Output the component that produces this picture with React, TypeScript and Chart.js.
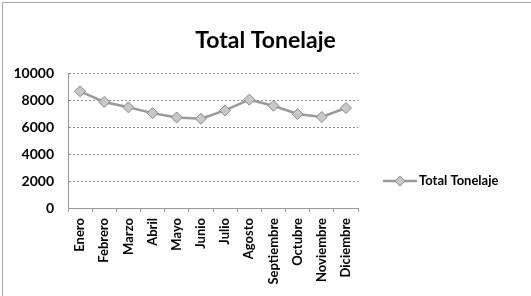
import React, { useEffect, useRef } from "react";
import { Chart, registerables } from "chart.js";

Chart.register(...registerables);

const categories = [
  "Enero", "Febrero", "Marzo", "Abril", "Mayo", "Junio",
  "Julio", "Agosto", "Septiembre", "Octubre", "Noviembre", "Diciembre",
];
const totalTonelaje = [8680, 7890, 7490, 7060, 6740, 6640, 7260, 8060, 7610, 6990, 6770, 7440];
const seriesLabel = "Total Tonelaje";
const chartTitle = "Total Tonelaje";
const yMin = 0;
const yMax = 10000;
const yStep = 2000;

const FONT = "Lato, 'Liberation Sans', sans-serif";

const titleCenterPlugin = {
  id: "titleCenter",
  afterLayout(chart: any) {
    const tb = chart.titleBlock;
    if (tb) {
      tb.left = 0;
      tb.right = chart.width;
      tb.width = chart.width;
    }
  },
};

const legendPlugin = {
  id: "sideLegend",
  afterDraw(chart: any) {
    const ctx = chart.ctx;
    const area = chart.chartArea;
    const ds = chart.data.datasets[0];
    const x0 = area.right + 25;
    const y = area.top + (area.bottom - area.top) * 0.8;
    ctx.save();
    ctx.strokeStyle = "#9a9a9a";
    ctx.lineWidth = 2.5;
    ctx.beginPath();
    ctx.moveTo(x0, y);
    ctx.lineTo(x0 + 34, y);
    ctx.stroke();
    const cx = x0 + 17;
    const r = 5;
    ctx.beginPath();
    ctx.moveTo(cx, y - r);
    ctx.lineTo(cx + r, y);
    ctx.lineTo(cx, y + r);
    ctx.lineTo(cx - r, y);
    ctx.closePath();
    ctx.fillStyle = "#c8c8c8";
    ctx.fill();
    ctx.strokeStyle = "#888";
    ctx.lineWidth = 1;
    ctx.stroke();
    ctx.fillStyle = "#000";
    ctx.font = `bold 13px ${FONT}`;
    ctx.textBaseline = "middle";
    ctx.textAlign = "left";
    ctx.fillText(ds.label, x0 + 36, y);
    ctx.restore();
  },
};

export default function App() {
  const ref = useRef<HTMLCanvasElement>(null);
  useEffect(() => {
    document.body.style.margin = "0";
    const chart = new Chart(ref.current!, {
      type: "line",
      data: {
        labels: categories,
        datasets: [
          {
            label: seriesLabel,
            data: totalTonelaje,
            borderColor: "#9a9a9a",
            borderWidth: 2.5,
            pointStyle: "rectRot",
            pointRadius: 5.5,
            pointBackgroundColor: "#c8c8c8",
            pointBorderColor: "#888",
            pointBorderWidth: 1,
            tension: 0,
          },
        ],
      },
      options: {
        animation: false,
        responsive: false,
        layout: { padding: { left: 0, right: 173, top: 0, bottom: 0 } },
        plugins: {
          legend: { display: false },
          tooltip: { enabled: false },
          title: {
            display: true,
            text: chartTitle,
            color: "#000",
            font: { family: FONT, size: 23, weight: "bold" },
            padding: { top: 27, bottom: 19 },
          },
        },
        scales: {
          x: {
            offset: true,
            grid: {
              drawOnChartArea: false,
              drawTicks: true,
              tickLength: 4,
              color: "#999",
              offset: true,
            },
            border: { display: true, color: "#999", dash: [1, 1] },
            ticks: {
              color: "#000",
              font: { family: FONT, size: 13, weight: "bold" },
              minRotation: 90,
              maxRotation: 90,
              padding: 6,
              autoSkip: false,
            },
            afterFit(scale: any) {
              scale.height = 88;
            },
          },
          y: {
            min: yMin,
            max: yMax,
            ticks: {
              stepSize: yStep,
              color: "#000",
              font: { family: FONT, size: 14, weight: "bold" },
              padding: 14,
              callback: (v: any) => String(v),
            },
            grid: {
              color: "#888",
              drawTicks: false,
            },
            border: { display: true, color: "#999", dash: [2, 2] },
            afterFit(scale: any) {
              scale.width = 68;
            },
          },
        },
      },
      plugins: [titleCenterPlugin, legendPlugin],
    });
    return () => chart.destroy();
  }, []);
  return (
    <div style={{ position: "relative", width: 531, height: 296, background: "#fff" }}>
      <canvas ref={ref} width={531} height={296} style={{ display: "block" }} />
      <div
        style={{
          position: "absolute",
          left: 2,
          top: 2,
          right: 0,
          bottom: 0,
          borderTop: "1px solid #aaa",
          borderLeft: "1px solid #aaa",
          pointerEvents: "none",
        }}
      />
    </div>
  );
}
